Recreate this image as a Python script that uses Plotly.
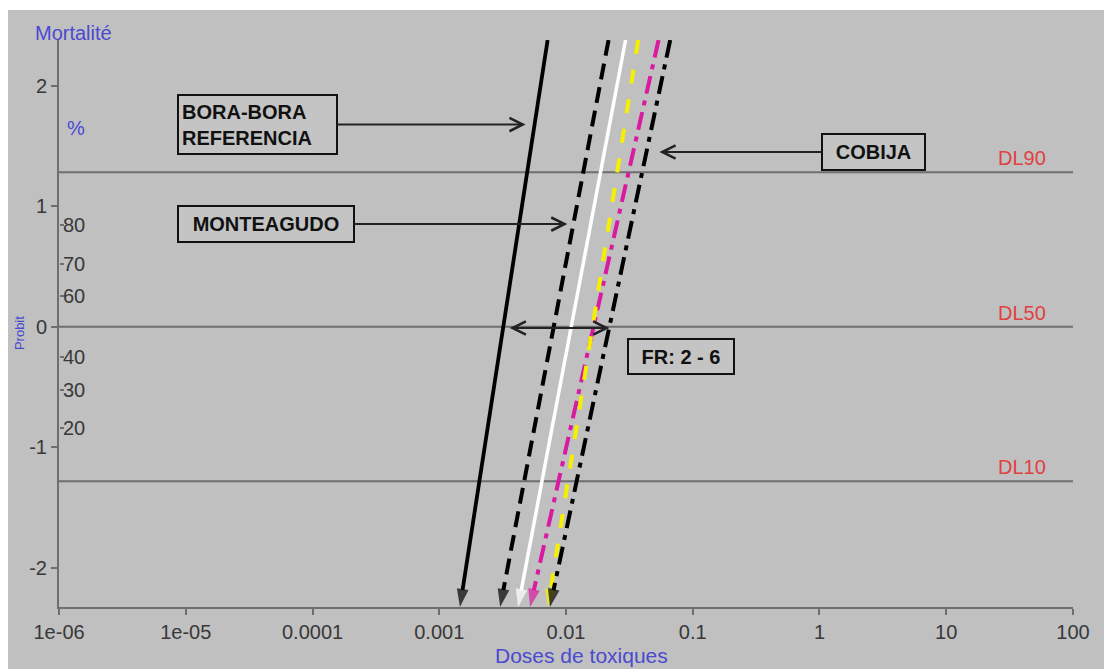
import math
from statistics import NormalDist
import plotly.graph_objects as go

# ---------------- data ----------------
series_names = ["BORA-BORA REFERENCIA", "MONTEAGUDO", "Souche 3", "Souche 4", "Souche 5", "COBIJA"]
ld50 = [0.0032, 0.0080, 0.0110, 0.0165, 0.0162, 0.0220]      # dose at 50 % mortality
slopes = [6.8, 5.5, 5.55, 4.64, 6.6, 4.96]                   # probit slope per log10 dose
probit_span = [-2.326, 2.38]                                 # probit range drawn
x_tickvals = [1e-6, 1e-5, 1e-4, 1e-3, 1e-2, 1e-1, 1, 10, 100]
x_ticktext = ["1e-06", "1e-05", "0.0001", "0.001", "0.01", "0.1", "1", "10", "100"]
y_tickvals = [-2, -1, 0, 1, 2]
y_ticktext = ["-2", "-1", "0", "1", "2"]
pct_ticks = [20, 30, 40, 60, 70, 80]
dl_levels = [90, 50, 10]
dl_labels = ["DL90", "DL50", "DL10"]

# ---------------- styles ----------------
colors = ["#000000", "#000000", "#ffffff", "#d81ba0", "#f5f000", "#000000"]
dashes = ["solid", "16px,8px", "solid", "18px,7px,5px,7px", "14px,16px", "18px,7px,5px,7px"]
widths = [3.8, 4, 3.5, 4, 4, 4]
BG = "#c0c0c0"
AX = "#6e6e6e"
TXT = "#383838"
BLUE = "#4a4ad2"
RED = "#e04040"
FONT = "Arial, Liberation Sans, sans-serif"

nd = NormalDist()
probit = lambda pct: nd.inv_cdf(pct / 100.0)


def dose_at(i, p):
    return ld50[i] * 10 ** (p / slopes[i])


fig = go.Figure()
for i in range(len(series_names)):
    ys = [probit_span[1], probit_span[0]]
    xs = [dose_at(i, p) for p in ys]
    fig.add_trace(go.Scatter(
        x=xs, y=ys, mode="lines+markers", name=series_names[i],
        line=dict(color=colors[i], width=widths[i], dash=dashes[i]),
        marker=dict(symbol="arrow", angleref="previous", size=[0, 19],
                    color=colors[i], line=dict(width=0)),
        cliponaxis=False, showlegend=False, hoverinfo="skip"))

# invisible trace for the secondary (percent) axis
fig.add_trace(go.Scatter(x=[x_tickvals[1]], y=[0], yaxis="y2", mode="markers",
                         marker=dict(opacity=0), showlegend=False, hoverinfo="skip"))

shapes = []
annotations = []
for lvl, lab in zip(dl_levels, dl_labels):
    yv = probit(lvl)
    shapes.append(dict(type="line", xref="paper", yref="y", x0=0, x1=1, y0=yv, y1=yv,
                       line=dict(color=AX, width=2), layer="below"))
    annotations.append(dict(text=lab, xref="paper", yref="y", x=0.95, y=yv,
                            xanchor="center", yanchor="bottom", yshift=1, showarrow=False,
                            font=dict(family=FONT, size=20, color=RED)))

# white margin strips (top / left) of the original picture
shapes.append(dict(type="rect", xref="paper", yref="paper", x0=-0.07, x1=1.05,
                   y0=1.0529, y1=1.08, fillcolor="white", line=dict(width=0), layer="above"))
shapes.append(dict(type="rect", xref="paper", yref="paper", x0=-0.07, x1=-0.0503,
                   y0=-0.12, y1=1.08, fillcolor="white", line=dict(width=0), layer="above"))

box_font = dict(family=FONT, size=20, color="#111111")
box_common = dict(bordercolor="#111111", borderwidth=2, borderpad=3, bgcolor="#c4c4c4",
                  font=box_font, arrowcolor="#222222", arrowwidth=2, arrowhead=5,
                  arrowsize=1.3, axref="x", ayref="y", xref="x", yref="y")

# BORA-BORA -> solid line
p_b = 1.678
annotations.append(dict(text="<b>BORA-BORA<br>REFERENCIA</b>", x=math.log10(dose_at(0, p_b)), y=p_b,
                        ax=-4.434, ay=p_b, width=151, height=51, standoff=9, showarrow=True,
                        align="left", **box_common))
# MONTEAGUDO -> dashed line
p_m = 0.852
annotations.append(dict(text="<b>MONTEAGUDO</b>", x=math.log10(dose_at(1, p_m)), y=p_m,
                        ax=-4.367, ay=p_m, width=168, height=28, standoff=6, showarrow=True,
                        **box_common))
# COBIJA -> dash-dot black
p_c = 1.45
annotations.append(dict(text="<b>COBIJA</b>", x=math.log10(dose_at(5, p_c)), y=p_c,
                        ax=0.426, ay=p_c, width=95, height=28, standoff=13, showarrow=True,
                        **box_common))
# FR box (no arrow)
annotations.append(dict(text="<b>FR: 2 - 6</b>", x=-1.093, y=-0.247, width=98, height=27,
                        showarrow=False, bordercolor="#111111", borderwidth=2, borderpad=3,
                        bgcolor="#c4c4c4", font=box_font, xref="x", yref="y"))
# double arrow between LD50s
annotations.append(dict(text="", x=math.log10(ld50[5]), y=-0.01, ax=math.log10(ld50[0]), ay=-0.01,
                        xref="x", yref="y", axref="x", ayref="y", showarrow=True,
                        arrowside="end+start", arrowhead=5, startarrowhead=5, arrowsize=1.3,
                        startarrowsize=1.3, arrowwidth=2, arrowcolor="#222222",
                        standoff=0, startstandoff=5))

# axis-side texts
annotations.append(dict(text="Mortalité", xref="paper", yref="paper", x=-0.0256, y=1.0123,
                        xanchor="left", yanchor="middle", showarrow=False,
                        font=dict(family=FONT, size=20, color=BLUE)))
annotations.append(dict(text="%", xref="paper", yref="paper", x=0.0059, y=0.845,
                        xanchor="left", yanchor="middle", showarrow=False,
                        font=dict(family=FONT, size=20, color=BLUE)))
annotations.append(dict(text="Probit", xref="paper", yref="paper", x=-0.0395, y=0.483,
                        xanchor="center", yanchor="middle", textangle=-90, showarrow=False,
                        font=dict(family=FONT, size=13, color=BLUE)))
annotations.append(dict(text="Doses de toxiques", xref="paper", yref="paper", x=0.515, y=-0.0847,
                        xanchor="center", yanchor="middle", showarrow=False,
                        font=dict(family=FONT, size=21, color=BLUE)))

fig.update_layout(
    width=1104, height=669,
    margin=dict(l=59, r=31, t=40, b=62),
    paper_bgcolor=BG, plot_bgcolor=BG,
    showlegend=False,
    font=dict(family=FONT, size=20, color=TXT),
    xaxis=dict(type="log", range=[-6.0004, 2.0004], tickvals=x_tickvals, ticktext=x_ticktext,
               showgrid=False, zeroline=False, showline=True, linecolor=AX, linewidth=2,
               ticks="outside", ticklen=6, tickwidth=1.5, tickcolor=AX,
               tickfont=dict(family=FONT, size=20, color=TXT)),
    yaxis=dict(range=probit_span, tickvals=y_tickvals, ticktext=y_ticktext, showgrid=False,
               zeroline=False, showline=True, linecolor=AX, linewidth=2, ticks="outside",
               ticklen=6, tickwidth=1.5, tickcolor=AX,
               tickfont=dict(family=FONT, size=20, color=TXT)),
    yaxis2=dict(range=probit_span, overlaying="y", side="right", anchor="free", position=0,
                tickvals=[probit(p) for p in pct_ticks], ticktext=[str(p) for p in pct_ticks],
                ticks="outside", ticklen=4, tickwidth=1.5, tickcolor=AX, ticklabelstandoff=-5,
                showgrid=False, zeroline=False, showline=False, automargin=False,
                tickfont=dict(family=FONT, size=20, color=TXT)),
    shapes=shapes,
    annotations=annotations,
)

fig.write_html("out.html")
